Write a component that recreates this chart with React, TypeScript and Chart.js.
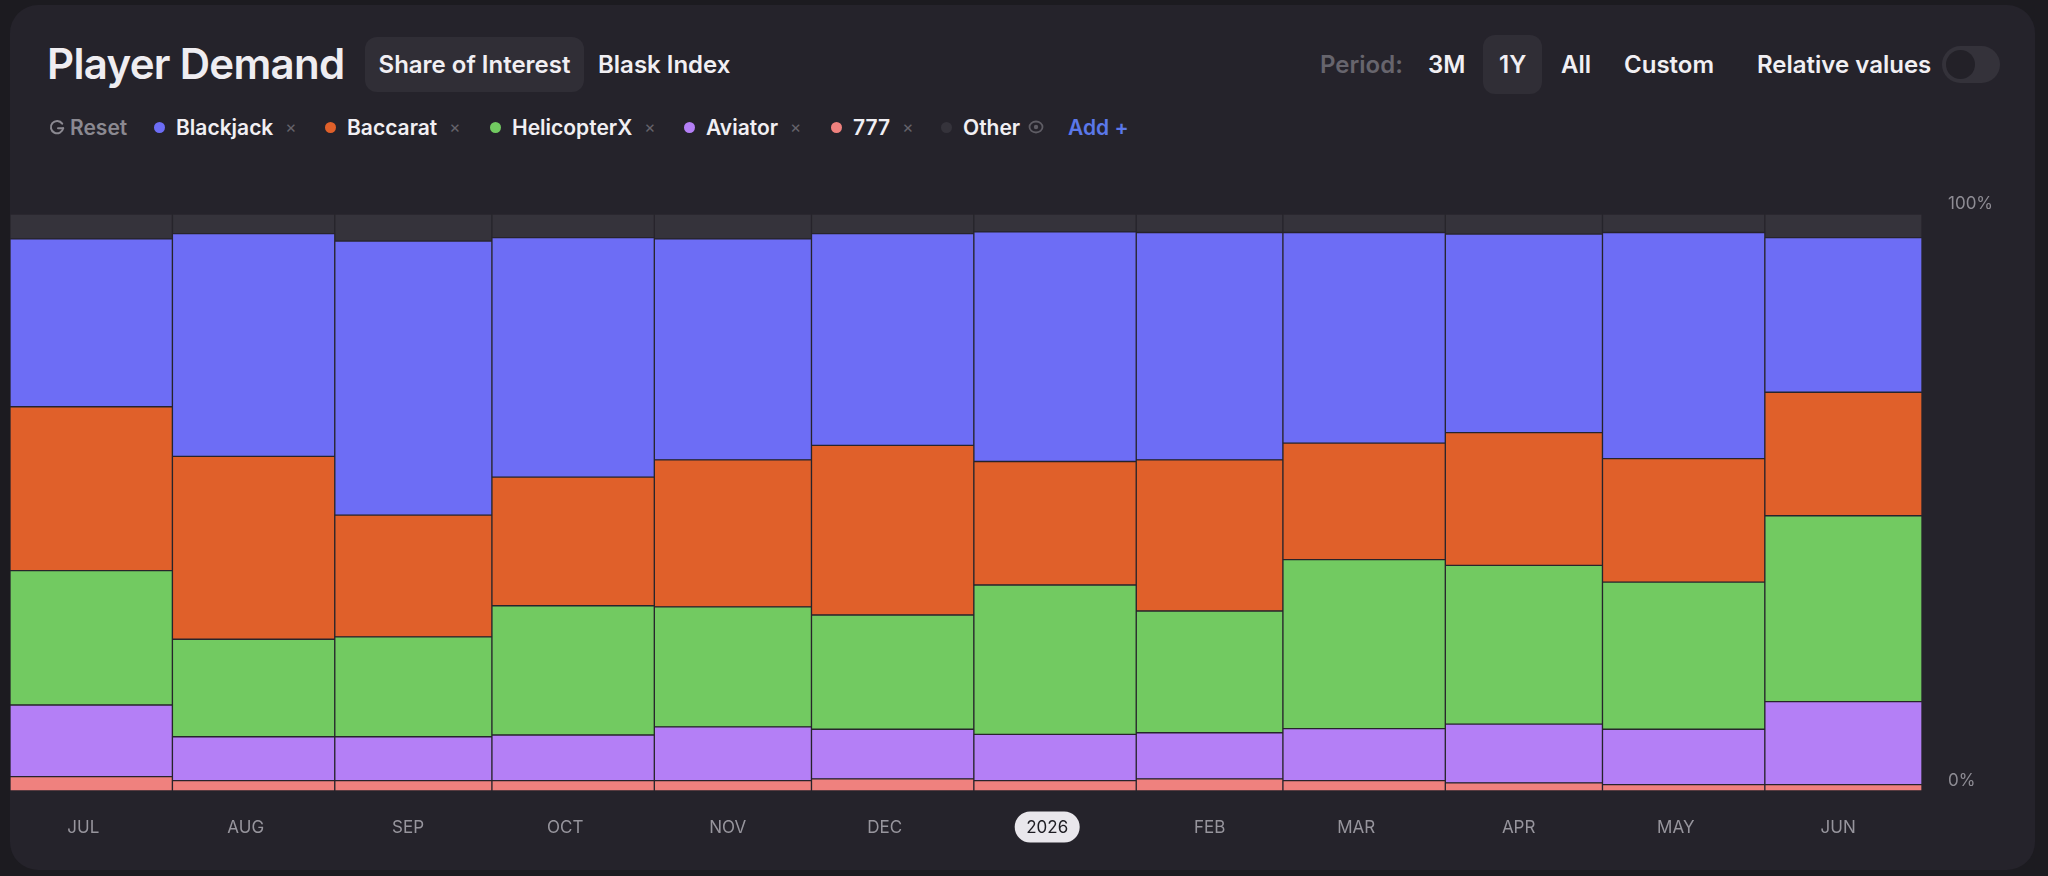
import React, { useEffect, useRef } from 'react';
import { Chart, registerables } from 'chart.js';

Chart.register(...registerables);

// ---- data ----
const months = ['JUL', 'AUG', 'SEP', 'OCT', 'NOV', 'DEC', '2026', 'FEB', 'MAR', 'APR', 'MAY', 'JUN'];
const monthDays = [31, 31, 30, 31, 30, 31, 31, 28, 31, 30, 31, 30];
const blackjack = [29.1, 38.6, 47.5, 41.5, 38.3, 36.7, 39.8, 39.4, 36.5, 34.4, 39.2, 26.8];
const baccarat = [28.4, 31.7, 21.1, 22.3, 25.5, 29.4, 21.4, 26.2, 20.2, 23.0, 21.4, 21.4];
const helicopterX = [23.3, 16.9, 17.3, 22.4, 20.8, 19.8, 25.9, 21.1, 29.3, 27.5, 25.5, 32.2];
const aviator = [12.4, 7.6, 7.6, 7.9, 9.3, 8.6, 8.0, 8.0, 9.0, 10.2, 9.6, 14.4];
const sevens = [2.5, 1.8, 1.8, 1.8, 1.8, 2.1, 1.8, 2.1, 1.8, 1.4, 1.1, 1.1];
const other = [4.3, 3.4, 4.7, 4.1, 4.3, 3.4, 3.1, 3.2, 3.2, 3.5, 3.2, 4.1];
const yTicks = [0, 100];

const monthStarts = monthDays.map((_, i) => monthDays.slice(0, i).reduce((a, b) => a + b, 0));
const totalDays = monthDays.reduce((a, b) => a + b, 0);
const tickDays = monthStarts.map((s) => s + 14);
const yearIdx = months.indexOf('2026');

const series = [
  { label: '777', values: sevens, color: '#ef817e' },
  { label: 'Aviator', values: aviator, color: '#b47ff6' },
  { label: 'HelicopterX', values: helicopterX, color: '#72ca61' },
  { label: 'Baccarat', values: baccarat, color: '#e0602a' },
  { label: 'Blackjack', values: blackjack, color: '#6d6df5' },
  { label: 'Other', values: other, color: '#35333b' },
];

const legendItems = [
  { label: 'Blackjack', color: '#6d6df5', left: 154, x: true },
  { label: 'Baccarat', color: '#e0602a', left: 325, x: true },
  { label: 'HelicopterX', color: '#72ca61', left: 490, x: true },
  { label: 'Aviator', color: '#b47ff6', left: 684, x: true },
  { label: '777', color: '#ef817e', left: 831, x: true },
  { label: 'Other', color: '#35333b', left: 941, x: false },
];

// make each bar span its whole month on the linear day scale
const monthSpanPlugin = {
  id: 'monthSpan',
  afterDatasetsUpdate(chart: any) {
    const xs = chart.scales.x;
    chart.data.datasets.forEach((_: any, di: number) => {
      const meta = chart.getDatasetMeta(di);
      meta.data.forEach((el: any, i: number) => {
        const l = xs.getPixelForValue(monthStarts[i]);
        const r = xs.getPixelForValue(monthStarts[i] + monthDays[i]);
        el.x = (l + r) / 2;
        el.width = r - l;
      });
    });
  },
};

const yearPillPlugin = {
  id: 'yearPill',
  beforeDraw(chart: any) {
    const xs = chart.scales.x;
    const ctx = chart.ctx;
    const x = xs.getPixelForValue(tickDays[yearIdx]);
    const y = chart.chartArea.bottom + 36;
    ctx.save();
    ctx.fillStyle = '#e9e7ec';
    ctx.beginPath();
    ctx.roundRect(x - 32.5, y - 15.5, 65, 31, 15.5);
    ctx.fill();
    ctx.restore();
  },
};

const FONT = 'Inter, "Noto Sans", sans-serif';

export default function App() {
  const ref = useRef<HTMLCanvasElement>(null);

  useEffect(() => {
    const canvas = ref.current;
    if (!canvas) return;
    const chart = new Chart(canvas, {
      type: 'bar',
      data: {
        datasets: series.map((s) => ({
          label: s.label,
          data: s.values.map((v, i) => ({ x: monthStarts[i] + monthDays[i] / 2, y: v })),
          backgroundColor: s.color,
          borderColor: '#27252c',
          borderWidth: 1,
          borderSkipped: false,
          categoryPercentage: 1,
          barPercentage: 1,
        })) as any,
      },
      options: {
        animation: false,
        responsive: false,
        layout: { padding: { top: 24, left: 0, right: 0, bottom: 0 } },
        plugins: { legend: { display: false }, tooltip: { enabled: false } },
        scales: {
          x: {
            type: 'linear',
            min: 0,
            max: totalDays,
            offset: false,
            stacked: true,
            grid: { display: false, drawTicks: false },
            border: { display: false },
            afterBuildTicks: (s: any) => {
              s.ticks = tickDays.map((v) => ({ value: v }));
            },
            afterFit: (s: any) => {
              s.height = 79;
              s.paddingLeft = 0;
              s.paddingRight = 0;
            },
            ticks: {
              autoSkip: false,
              maxRotation: 0,
              padding: 27,
              font: { family: FONT, size: 17 },
              color: (c: any) => (c.index === yearIdx ? '#1d1c22' : '#97959d'),
              callback: (_v: any, i: number) => months[i],
            },
          } as any,
          y: {
            position: 'right',
            min: 0,
            max: 100,
            stacked: true,
            grid: { display: false, drawTicks: false },
            border: { display: false },
            afterBuildTicks: (s: any) => {
              s.ticks = yTicks.map((v) => ({ value: v }));
            },
            afterFit: (s: any) => {
              s.width = 113;
              s.paddingTop = 0;
              s.paddingBottom = 0;
            },
            ticks: {
              padding: 26,
              labelOffset: -10,
              font: { family: FONT, size: 17 },
              color: '#8e8c94',
              callback: (v: any) => v + '%',
            },
          } as any,
        },
      },
      plugins: [monthSpanPlugin, yearPillPlugin],
    });
    return () => chart.destroy();
  }, []);

  const abs = (left: number, top: number, extra: React.CSSProperties = {}): React.CSSProperties => ({
    position: 'absolute',
    left,
    top,
    whiteSpace: 'nowrap',
    ...extra,
  });

  const headRow = (left: number, text: string, color = '#f1eff3', size = 24): React.ReactNode => (
    <div
      style={abs(left, 37, {
        height: 55,
        display: 'flex',
        alignItems: 'center',
        fontSize: size,
        lineHeight: 1,
        fontWeight: 600,
        color,
      })}
    >
      {text}
    </div>
  );

  return (
    <div
      style={{
        position: 'fixed',
        left: 0,
        top: 0,
        width: 2048,
        height: 876,
        background: '#1c1b20',
        fontFamily: FONT,
        overflow: 'hidden',
      }}
    >
      <div
        style={{
          position: 'absolute',
          left: 10,
          top: 5,
          width: 2025,
          height: 865,
          borderRadius: 28,
          background: '#25232b',
          overflow: 'hidden',
        }}
      />

      {/* title */}
      <div
        style={abs(47, 36, {
          height: 55,
          display: 'flex',
          alignItems: 'center',
          fontSize: 42,
          lineHeight: 1,
          fontWeight: 600,
          letterSpacing: -0.7,
          color: '#efedf1',
        })}
      >
        Player Demand
      </div>

      {/* tabs */}
      <div
        style={abs(365, 37, {
          width: 219,
          height: 55,
          borderRadius: 12,
          background: '#302e36',
          display: 'flex',
          alignItems: 'center',
          justifyContent: 'center',
          fontSize: 24,
          lineHeight: 1,
          fontWeight: 600,
          color: '#f1eff3',
        })}
      >
        Share of Interest
      </div>
      {headRow(598, 'Blask Index')}

      {/* period controls */}
      {headRow(1320, 'Period:', '#67656d')}
      {headRow(1428, '3M')}
      <div style={abs(1483, 35, { width: 59, height: 59, borderRadius: 12, background: '#302e36' })} />
      {headRow(1499, '1Y')}
      {headRow(1561, 'All')}
      {headRow(1624, 'Custom')}
      {headRow(1757, 'Relative values')}
      <div
        style={abs(1942, 46, {
          width: 58,
          height: 37,
          borderRadius: 19,
          background: '#34323a',
        })}
      >
        <div
          style={{
            position: 'absolute',
            left: 4,
            top: 4,
            width: 29,
            height: 29,
            borderRadius: 15,
            background: '#232128',
          }}
        />
      </div>

      {/* legend row */}
      <div
        style={abs(49, 112, {
          height: 30,
          display: 'flex',
          alignItems: 'center',
          fontSize: 21,
          lineHeight: 1,
          fontWeight: 600,
          color: '#8b8991',
        })}
      >
        <svg width="16" height="17" viewBox="0 0 16 17" style={{ marginRight: 5 }}>
          <path
            d="M13.2 4.6 A6.2 6.2 0 1 0 14.2 9.2"
            stroke="#8b8991"
            strokeWidth="2"
            fill="none"
            strokeLinecap="round"
          />
          <path d="M9 9.2 H14.2" stroke="#8b8991" strokeWidth="2" strokeLinecap="round" />
        </svg>
        Reset
      </div>
      {legendItems.map((it) => (
        <div
          key={it.label}
          style={abs(it.left, 112, {
            height: 30,
            display: 'flex',
            alignItems: 'center',
            fontSize: 21,
            lineHeight: 1,
            fontWeight: 600,
            color: '#f1eff3',
          })}
        >
          <span
            style={{
              display: 'inline-block',
              width: 11,
              height: 11,
              borderRadius: 6,
              background: it.color,
              marginRight: 11,
            }}
          />
          {it.label}
          {it.x ? (
            <span style={{ marginLeft: 12, fontSize: 17, fontWeight: 400, color: '#65636b' }}>×</span>
          ) : (
            <svg width="16" height="14" viewBox="0 0 16 14" style={{ marginLeft: 8 }}>
              <ellipse cx="8" cy="7" rx="6.5" ry="5.5" stroke="#5f5d65" strokeWidth="1.8" fill="none" />
              <circle cx="8" cy="7" r="2.2" fill="#5f5d65" />
            </svg>
          )}
        </div>
      ))}
      <div
        style={abs(1068, 112, {
          height: 30,
          display: 'flex',
          alignItems: 'center',
          fontSize: 21,
          lineHeight: 1,
          fontWeight: 600,
          color: '#5b78ea',
        })}
      >
        Add +
      </div>

      {/* chart */}
      <canvas
        ref={ref}
        width={2025}
        height={680}
        style={{ position: 'absolute', left: 10, top: 190, width: 2025, height: 680 }}
      />
    </div>
  );
}
